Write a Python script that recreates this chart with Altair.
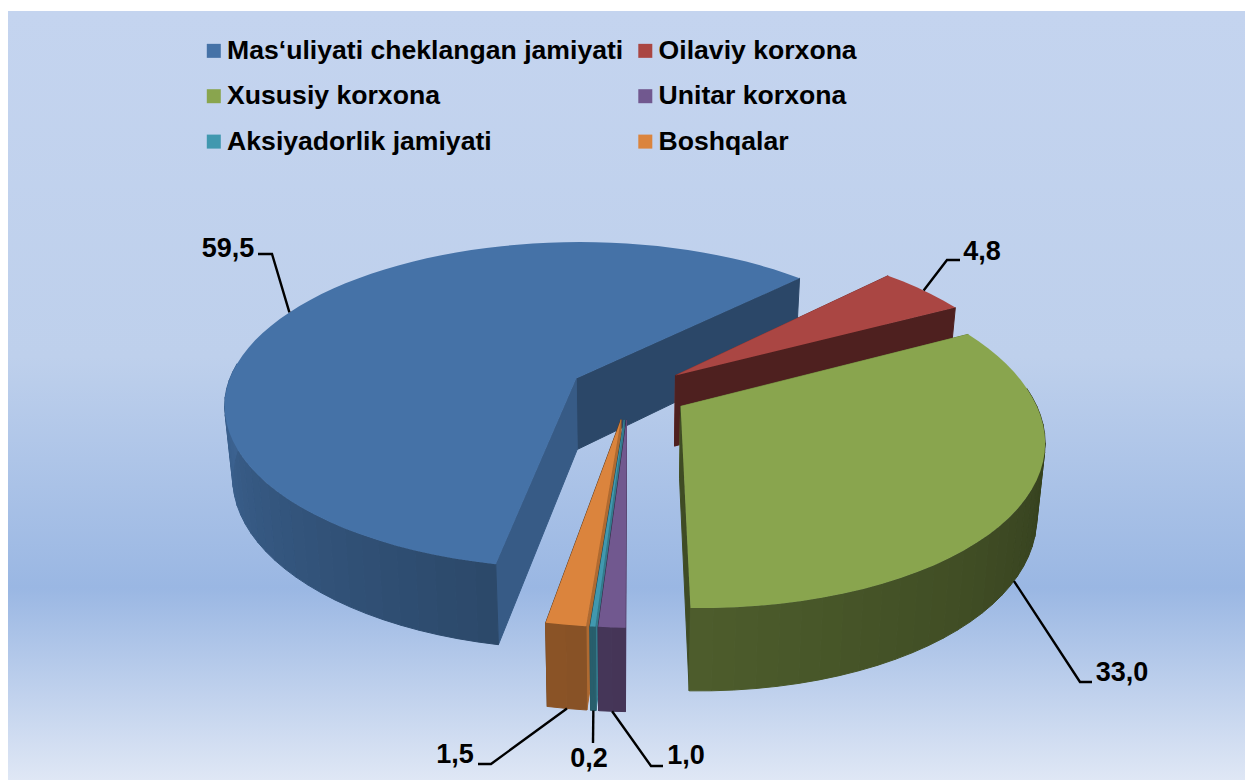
import math
import altair as alt

# ---- data -------------------------------------------------------------
names = ["Mas‘uliyati cheklangan jamiyati", "Oilaviy korxona", "Xususiy korxona",
         "Unitar korxona", "Aksiyadorlik jamiyati", "Boshqalar"]
shares = [59.5, 4.8, 33.0, 1.0, 0.2, 1.5]
labels = ["59,5", "4,8", "33,0", "1,0", "0,2", "1,5"]
colors = ["#4572A7", "#AA4643", "#89A54E", "#71588F", "#4198AF", "#DB843D"]

# ---- styling / layout ---------------------------------------------------
W, H = 1237, 772
OX, OY = 627.5, 391.5      # projected pie centre (picture px)
A, B, K = 351.0, 163.0, 0.165
EXPLODE = 0.17
START = 191.0
DEPTH = 71.5
SHRINK = 0.98
FONT = "Liberation Sans"
leader_layout = {
    "59,5": dict(bottom=False, shift=-1.5, pts=[(272, 254), (258, 254)], text=(228, 249)),
    "4,8":  dict(bottom=False, shift=0, pts=[(947, 260), (960, 260)], text=(982, 252)),
    "33,0": dict(bottom=True,  shift=0, pts=[(1080, 682), (1092, 682)], text=(1122, 673)),
    "1,0":  dict(bottom=True,  shift=0, pts=[(651, 766), (663, 766)], text=(686, 756)),
    "0,2":  dict(bottom=True,  shift=0, pts=[(593, 743)], text=(589, 759)),
    "1,5":  dict(bottom=True,  shift=0, pts=[(491, 764), (478, 764)], text=(455, 755)),
}
draw_order = [0, 1, 2, 5, 4, 3]


def project(X, Y, low=False):
    w = 1 + K * Y
    x = A * X / w
    y = -B * Y / w
    x += 1 + 0.045 * max(y, 0) + 0.025 * min(y, 0)
    if low:
        return (OX + SHRINK * x - 8, OY + SHRINK * y + DEPTH / w - 8)
    return (OX + x - 8, OY + y - 8)


def darken(hex_color, f):
    r, g, b = (int(hex_color[i:i + 2], 16) for i in (1, 3, 5))
    return "#%02x%02x%02x" % (round(r * f), round(g * f), round(b * f))


def rim_shade(theta):
    th = theta % 360
    if th <= 180:
        return 0.36 + max(0.0, th - 90) / 90 * 0.2
    return 0.60 + min(90.0, th - 180) / 90 * 0.27


def feature(ring, fill, name=""):
    ring = [list(p) for p in ring] + [list(ring[0])]
    return {"type": "Feature",
            "geometry": {"type": "Polygon", "coordinates": [ring]},
            "properties": {"fill": fill, "name": name}}


angle = START
slices = []
for nm, s, c, lab in zip(names, shares, colors, labels):
    sweep = s * 3.6
    slices.append(dict(name=nm, a0=angle, a1=angle + sweep, color=c, label=lab))
    angle += sweep

walls, tops, leaders, texts = [], [], [], []


def sample(a0, a1, n):
    return [a0 + (a1 - a0) * i / n for i in range(n + 1)]


for idx in draw_order:
    sl = slices[idx]
    mid = math.radians((sl["a0"] + sl["a1"]) / 2)
    ex, ey = EXPLODE * math.sin(mid), EXPLODE * math.cos(mid)
    pt = lambda deg, low=False: project(ex + math.sin(math.radians(deg)),
                                        ey + math.cos(math.radians(deg)), low)
    apex, apex_low = project(ex, ey), project(ex, ey, True)
    span = sl["a1"] - sl["a0"]
    n = max(2, int(span / 3))
    angs = sample(sl["a0"], sl["a1"], n)
    # radial walls, the one further back first
    radial = sorted([(sl["a1"], 0.62 if idx == 0 else 0.46), (sl["a0"], 0.8)],
                    key=lambda r: -math.cos(math.radians(r[0])))
    for a, shade in radial:
        walls.append(feature([apex, pt(a), pt(a, True), apex_low], darken(sl["color"], shade)))
    # rim strips facing the viewer
    for a, b in zip(angs[:-1], angs[1:]):
        if math.cos(math.radians((a + b) / 2)) < 0.1:
            walls.append(feature([pt(a), pt(b), pt(b, True), pt(a, True)],
                                 darken(sl["color"], rim_shade((a + b) / 2))))
    tops.append(feature([apex] + [pt(a) for a in angs], sl["color"], sl["name"]))
    # leader
    lay = leader_layout[sl["label"]]
    start = pt((sl["a0"] + sl["a1"]) / 2 + lay["shift"], lay["bottom"])
    path = [list(start)] + [[x - 8, y - 8] for x, y in lay["pts"]]
    leaders.append({"type": "Feature",
                    "geometry": {"type": "LineString", "coordinates": path},
                    "properties": {"label": sl["label"]}})
    texts.append({"label": sl["label"], "x": lay["text"][0] - 8, "y": lay["text"][1] - 8})

background = alt.Chart(alt.Data(values=[{"k": 1}])).mark_rect(
    color=alt.Gradient(
        gradient="linear", x1=0, x2=0, y1=0, y2=1,
        stops=[alt.GradientStop(offset=0, color="#C4D4EF"),
               alt.GradientStop(offset=0.45, color="#BED0EC"),
               alt.GradientStop(offset=0.75, color="#9AB7E3"),
               alt.GradientStop(offset=1, color="#DFE7F5")])
).encode(x=alt.value(0), x2=alt.value(W), y=alt.value(3), y2=alt.value(H))

wall_layer = alt.Chart(alt.Data(values=walls)).mark_geoshape(strokeWidth=1).encode(
    fill=alt.Fill("properties.fill:N", scale=None, legend=None),
    stroke=alt.Stroke("properties.fill:N", scale=None, legend=None),
).project(type="identity", scale=1, translate=[0, 0])

top_layer = alt.Chart(alt.Data(values=tops)).mark_geoshape(strokeWidth=0).encode(
    color=alt.Color(
        "properties.name:N",
        scale=alt.Scale(domain=names, range=colors),
        legend=alt.Legend(
            orient="none", legendX=192.5, legendY=29.5, columns=2, direction="horizontal",
            title=None, symbolType="square", symbolSize=196, symbolStrokeWidth=0,
            symbolOpacity=1, labelFont=FONT, labelFontWeight="bold", labelFontSize=26.6,
            labelColor="black", labelLimit=600, labelOffset=0, columnPadding=8.5,
            rowPadding=18.4, padding=0),
    ),
).project(type="identity", scale=1, translate=[0, 0])

leader_layer = alt.Chart(alt.Data(values=leaders)).mark_geoshape(
    filled=False, stroke="black", strokeWidth=2.4
).project(type="identity", scale=1, translate=[0, 0])

text_layer = alt.Chart(alt.Data(values=texts)).mark_text(
    font=FONT, fontWeight="bold", fontSize=27, color="black", align="center", baseline="middle"
).encode(x=alt.X("x:Q", scale=None), y=alt.Y("y:Q", scale=None), text="label:N")

chart = alt.layer(background, wall_layer, top_layer, leader_layer, text_layer).resolve_scale(
    color="independent", fill="independent", stroke="independent"
).properties(
    width=W, height=H, padding=0, autosize=alt.AutoSizeParams(type="none"),
    background="white"
).configure_view(stroke=None)

chart.save("out.html", embed_options={"renderer": "svg", "actions": False})
